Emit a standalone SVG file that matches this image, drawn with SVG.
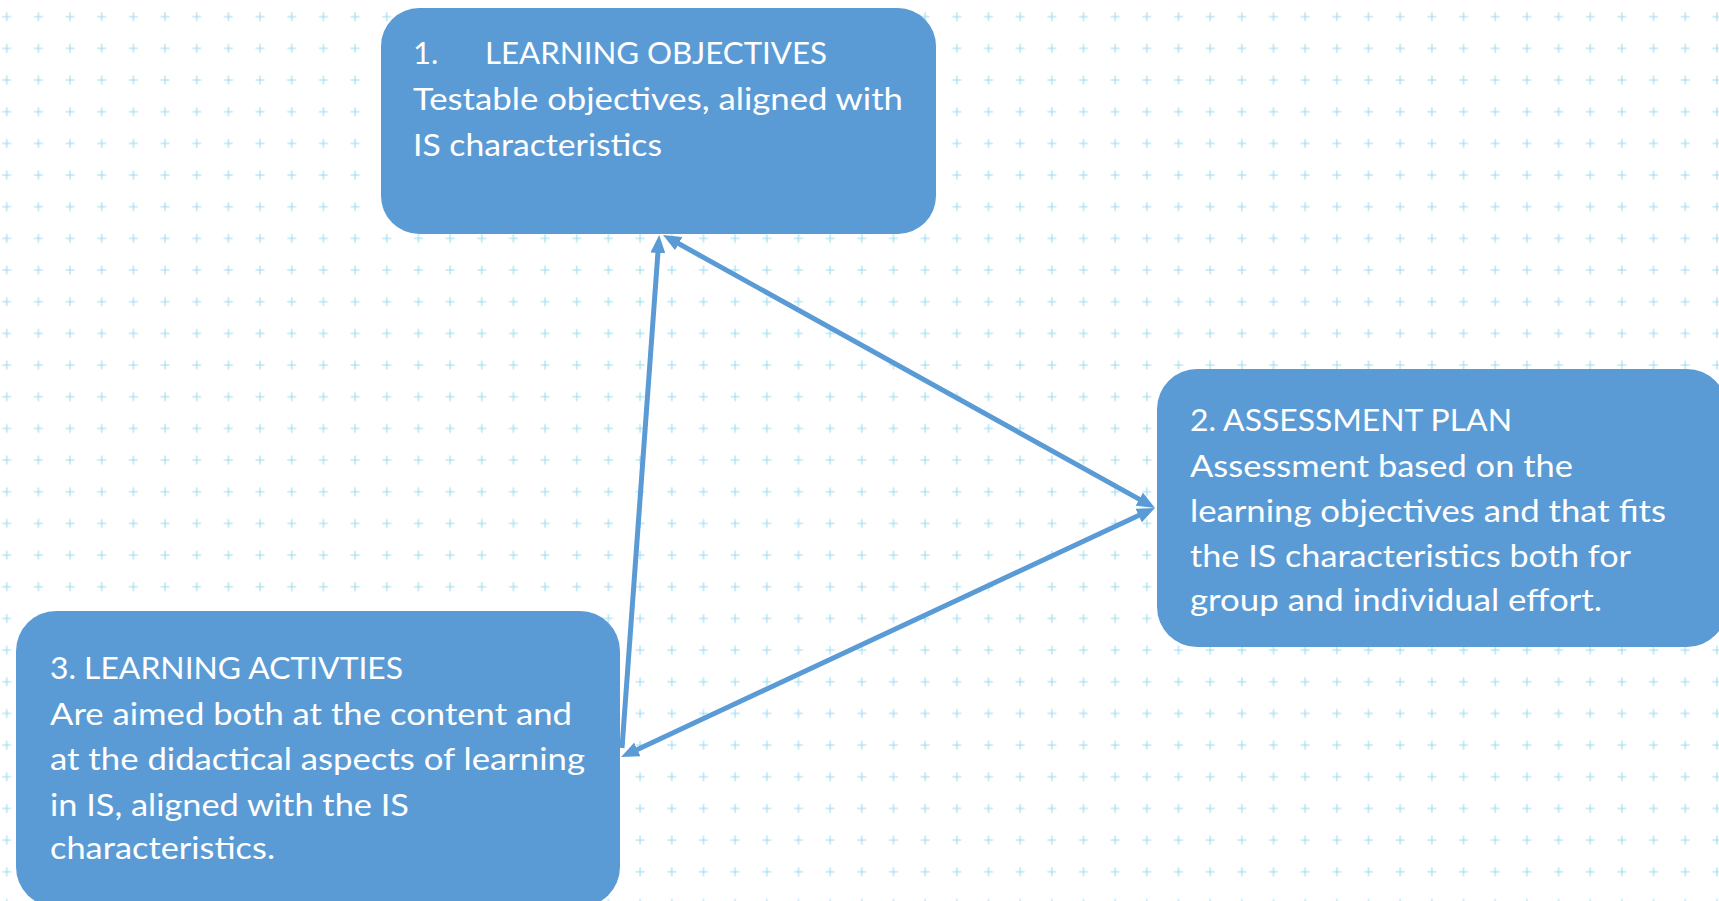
<svg xmlns="http://www.w3.org/2000/svg" width="1719" height="901" viewBox="0 0 1719 901">
  <style>
    .box { fill: #5b9bd5; }
    .t { font-family: Lato, "Open Sans", "Liberation Sans", sans-serif; font-size: 31px; fill: #ffffff; }
    .h { font-weight: 400; }
    .conn { stroke: #5b9bd5; stroke-width: 5; fill: none; }
  </style>
  <defs>
    <pattern id="grid" x="-9.1" y="0.87" width="31.67" height="31.67" patternUnits="userSpaceOnUse">
      <path d="M11.3,15.83 H20.3 M15.83,11.3 V20.3" stroke="#9adcf0" stroke-width="1.1" fill="none"/>
    </pattern>
    <marker id="ah" viewBox="0 0 18 15" markerWidth="18" markerHeight="15" refX="7" refY="7.5" markerUnits="userSpaceOnUse" orient="auto-start-reverse">
      <path d="M0,0 L18,7.5 L0,15 z" fill="#5b9bd5"/>
    </marker>
  </defs>
  <rect width="1719" height="901" fill="#ffffff"/>
  <rect width="1719" height="901" fill="url(#grid)"/>

  <g id="connectors">
    <line class="conn" x1="622" y1="748" x2="658.4" y2="246" marker-end="url(#ah)"/>
    <line class="conn" x1="672.6" y1="240.3" x2="1145.4" y2="502.6" marker-start="url(#ah)" marker-end="url(#ah)"/>
    <line class="conn" x1="1145" y1="512.6" x2="631" y2="752.4" marker-start="url(#ah)" marker-end="url(#ah)"/>
  </g>

  <g id="node-learning-objectives">
    <rect class="box" x="381" y="8" width="555" height="226" rx="38" ry="38"/>
    <text class="t h" x="413" y="64">1.</text>
    <text class="t h" x="485" y="64" textLength="342" lengthAdjust="spacingAndGlyphs">LEARNING OBJECTIVES</text>
    <text class="t" x="413" y="110" textLength="490" lengthAdjust="spacingAndGlyphs">Testable objectives, aligned with</text>
    <text class="t" x="413" y="156" textLength="249" lengthAdjust="spacingAndGlyphs">IS characteristics</text>
  </g>

  <g id="node-assessment-plan">
    <rect class="box" x="1157" y="369" width="570" height="278" rx="40" ry="40"/>
    <text class="t h" x="1190" y="431" textLength="322" lengthAdjust="spacingAndGlyphs">2. ASSESSMENT PLAN</text>
    <text class="t" x="1190" y="477" textLength="383" lengthAdjust="spacingAndGlyphs">Assessment based on the</text>
    <text class="t" x="1190" y="522" textLength="476" lengthAdjust="spacingAndGlyphs">learning objectives and that fits</text>
    <text class="t" x="1190" y="567" textLength="441" lengthAdjust="spacingAndGlyphs">the IS characteristics both for</text>
    <text class="t" x="1190" y="611" textLength="412" lengthAdjust="spacingAndGlyphs">group and individual effort.</text>
  </g>

  <g id="node-learning-activities">
    <rect class="box" x="16" y="611" width="604" height="296" rx="40" ry="40"/>
    <text class="t h" x="50" y="679" textLength="353" lengthAdjust="spacingAndGlyphs">3. LEARNING ACTIVTIES</text>
    <text class="t" x="50" y="725" textLength="522" lengthAdjust="spacingAndGlyphs">Are aimed both at the content and</text>
    <text class="t" x="50" y="770" textLength="535" lengthAdjust="spacingAndGlyphs">at the didactical aspects of learning</text>
    <text class="t" x="50" y="816" textLength="359" lengthAdjust="spacingAndGlyphs">in IS, aligned with the IS</text>
    <text class="t" x="50" y="859" textLength="225" lengthAdjust="spacingAndGlyphs">characteristics.</text>
  </g>
</svg>
